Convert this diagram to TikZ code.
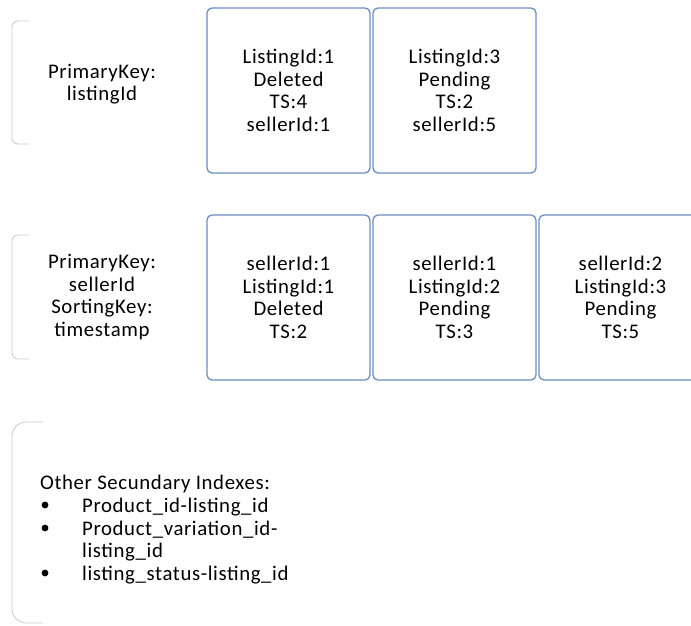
\documentclass[tikz,border=0pt]{standalone}
\usepackage{fontspec}
\setmainfont{Carlito}[LetterSpace=3]
\definecolor{boxblue}{RGB}{108,142,191}
\definecolor{bracketgray}{RGB}{204,204,204}
\tikzset{
  txtfont/.style={font=\fontsize{20.8}{22.7}\selectfont},
  recbox/.style={draw=boxblue, line width=1.3pt, rounded corners=5pt,
    minimum width=163pt, minimum height=165pt, align=center, txtfont},
  keytext/.style={align=center, txtfont},
  bracket/.style={draw=bracketgray, line width=0.9pt},
}
\begin{document}
\begin{tikzpicture}[x=1pt,y=-1pt]
\clip (0,0) rectangle (691,625);
% left brackets
\draw[bracket, rounded corners=6pt] (29,21) -- (12,21) -- (12,144) -- (29,144);
\draw[bracket, rounded corners=6pt] (29,235) -- (12,235) -- (12,359) -- (29,359);
\draw[bracket, rounded corners=14pt] (43,422) -- (12,422) -- (12,623) -- (43,623);
% key labels
\node[keytext] (pk1) at (102,84) {PrimaryKey:\\listingId};
\node[keytext] (pk2) at (102,297) {PrimaryKey:\\sellerId\\SortingKey:\\timestamp};
% records by listing id
\foreach \x / \n / \txt in {288.5/la/{ListingId:1\\Deleted\\TS:4\\sellerId:1},
                           454.5/lb/{ListingId:3\\Pending\\TS:2\\sellerId:5}}
{
	\node[recbox] (\n) at (\x,90.5) {\txt};
}
% records by seller id
\foreach \x / \n / \txt in {288.5/sa/{sellerId:1\\ListingId:1\\Deleted\\TS:2},
                           454.5/sb/{sellerId:1\\ListingId:2\\Pending\\TS:3},
                           620.5/sc/{sellerId:2\\ListingId:3\\Pending\\TS:5}}
{
	\node[recbox] (\n) at (\x,297.5) {\txt};
}
% other indexes
\node[txtfont, anchor=mid west, inner sep=0pt] (other) at (40,487) {Other Secundary Indexes:};
\foreach \y / \n / \txt in {510/ia/Product\_id-listing\_id, 533/ib/Product\_variation\_id-,
                           555/ic/listing\_id, 578/id/listing\_status-listing\_id}
{
	\node[txtfont, anchor=mid west, inner sep=0pt] (\n) at (82,\y) {\txt};
}
\foreach \y / \n in {505/ba, 528/bb, 573/bc}
	\fill (45,\y) circle (3.4pt) coordinate (\n);
\end{tikzpicture}
\end{document}
